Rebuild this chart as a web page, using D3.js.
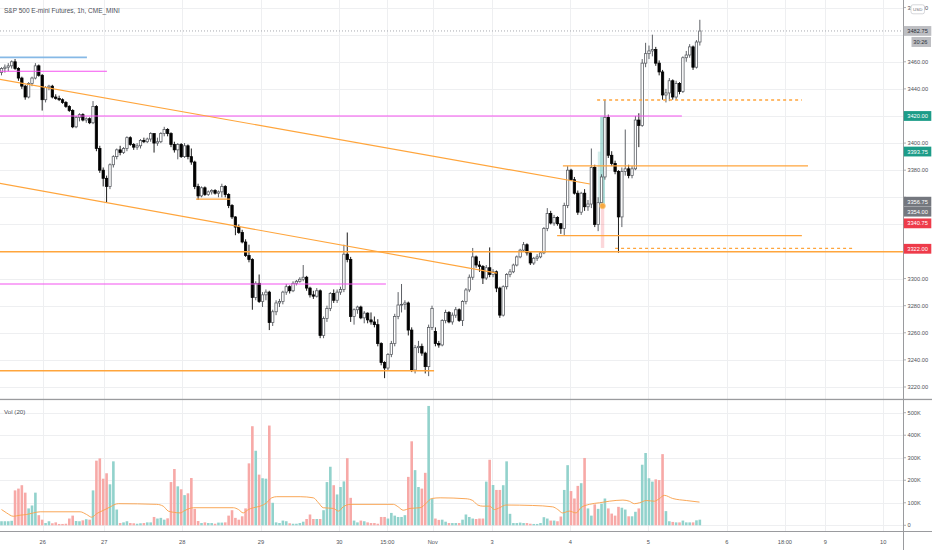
<!DOCTYPE html>
<html><head><meta charset="utf-8">
<script src="https://cdn.jsdelivr.net/npm/d3@7/dist/d3.min.js"></script>
<style>
html,body{margin:0;padding:0;background:#fff;}
svg{display:block;font-family:"Liberation Sans",Arial,sans-serif;}
</style></head><body>
<svg id="c" width="932" height="550"></svg>
<script>
// ---------- DATA ----------
const title = "S&P 500 E-mini Futures, 1h, CME_MINI";
// hourly bars [open, high, low, close]
const ohlc = [
[3452,3456,3450,3455],[3455,3458,3452,3456],[3456,3459,3453,3457],[3457,3461,3455,3460],[3460,3462,3454,3455],
[3455,3456,3446,3448],[3448,3449,3440,3442],[3442,3443,3432,3434],[3434,3445,3433,3444],[3444,3449,3442,3448],
[3448,3459,3447,3457],[3457,3458,3449,3450],[3450,3451,3424,3432],[3432,3442,3430,3441],[3441,3443,3439,3442],
[3442,3443,3433,3434],[3434,3436,3432,3433],[3433,3435,3431,3432],[3432,3433,3429,3430],[3430,3431,3426,3427],
[3427,3428,3423,3424],[3424,3425,3411,3412],[3412,3420,3411,3419],[3419,3422,3416,3421],[3421,3422,3416,3417],
[3417,3419,3415,3418],[3418,3419,3414,3415],[3415,3431,3414,3427],[3427,3428,3394,3396],[3396,3398,3378,3380],
[3380,3382,3368,3374],[3374,3376,3356,3368],[3368,3385,3366,3384],[3384,3391,3382,3390],[3390,3396,3388,3395],
[3395,3398,3391,3393],[3393,3397,3392,3396],[3396,3405,3394,3404],[3404,3405,3398,3399],[3399,3400,3395,3397],
[3397,3400,3395,3398],[3398,3403,3396,3402],[3402,3404,3400,3401],[3401,3404,3400,3403],[3403,3408,3401,3407],
[3407,3407,3393,3400],[3400,3404,3398,3401],[3401,3408,3400,3407],[3407,3412,3405,3410],[3410,3411,3405,3407],
[3407,3408,3397,3399],[3399,3401,3393,3395],[3395,3400,3388,3399],[3399,3400,3389,3390],[3390,3400,3389,3398],
[3398,3399,3388,3390],[3390,3396,3384,3386],[3386,3387,3366,3368],[3368,3370,3358,3361],[3361,3368,3360,3367],
[3367,3368,3361,3362],[3362,3365,3361,3364],[3364,3366,3362,3365],[3365,3366,3362,3363],[3363,3365,3360,3364],
[3364,3370,3360,3368],[3368,3369,3360,3362],[3362,3363,3352,3354],[3354,3355,3344,3345.5],[3345.5,3346,3332,3338],
[3338,3340,3333,3334],[3334,3336,3326,3327],[3327,3329,3316,3317],[3317,3325,3312,3314],[3314,3315,3277,3286],
[3286,3298,3284,3296.5],[3296.5,3303,3282,3283],[3283,3290,3279,3288],[3288,3292,3284,3290],[3290,3291,3262,3267.5],
[3267.5,3277,3265,3275.5],[3275.5,3284,3273,3282],[3282,3285,3279,3283],[3283,3291,3281,3290],[3290,3296,3288,3294],
[3294,3295,3289,3291],[3291,3298,3290,3296.5],[3296.5,3299,3295,3298],[3298,3301,3297,3299.5],[3299.5,3310,3298,3301],
[3301,3302,3291,3293],[3293,3294,3286,3288],[3288,3291,3285,3287],[3287,3293,3286,3291],[3291,3292,3256,3258],
[3258,3272,3256,3270.5],[3270.5,3280,3268,3278],[3278,3290,3276,3289],[3289,3292,3282,3284],[3284,3292,3282,3290],
[3290,3294,3288,3292],[3292,3325,3290,3318],[3318,3334,3312,3314],[3314,3316,3268,3272],[3272,3278,3266,3277],
[3277,3280,3274,3279],[3279,3280,3270,3271],[3271,3276,3267,3274.5],[3274.5,3275,3267,3269.5],[3269.5,3275,3266,3268],
[3268,3272,3264,3266],[3266,3270,3250,3252],[3252,3253,3236,3238],[3238,3239,3226.5,3234],[3234,3245,3232,3244],
[3244,3254,3242,3252],[3252,3274,3250,3272],[3272,3290,3270,3280.5],[3280.5,3296,3275,3281],[3281,3284,3277,3282],
[3282,3283,3258,3262],[3262,3264,3231,3232.5],[3232.5,3251,3230,3249],[3249,3254,3245,3250],[3250,3252,3243,3245],
[3245,3246,3230,3235],[3235,3266,3228,3264],[3264,3280,3262,3278],[3261,3264,3250,3252],[3252,3254,3249,3251],
[3251,3270,3250,3269],[3269,3277,3267,3275],[3275,3276,3267,3268],[3268,3275,3266,3273],[3273,3279,3271,3277],
[3277,3278,3268,3269],[3269,3284,3265,3283],[3283,3293,3281,3291.6],[3291.6,3303,3290,3301],[3301,3322.6,3299,3316],
[3316,3317,3308,3310],[3310,3313,3305,3309],[3309,3310,3296,3300.4],[3300.4,3310,3299,3308],[3308,3323,3301,3303],
[3303,3307,3301,3305],[3305,3306,3290,3293],[3293,3294,3271,3273],[3273,3295,3272,3294],[3294,3304,3292,3303],
[3303,3307,3301,3305],[3305,3311,3304,3310],[3310,3317,3309,3316],[3316,3322,3315,3321],[3321,3327,3320,3325],
[3325,3326,3317,3319],[3319,3320,3310,3311.5],[3311.5,3316,3310,3315],[3315,3318,3313,3316],[3316,3320,3315,3319],
[3319,3338,3318,3337],[3337,3352,3335,3348],[3348,3350,3340,3341],[3341,3347,3339,3345],[3345,3346,3339,3340.5],
[3340.5,3341,3333,3337],[3337,3356,3332,3354],[3354,3383,3352,3380],[3380,3381,3372,3373],[3373,3375,3362,3363],
[3363,3365,3347,3349],[3349,3364,3347,3363],[3363,3366,3350,3353],[3353,3358,3350,3355],[3355,3396,3352,3382],
[3382,3384,3338,3340],[3340,3360,3335,3356],[3356,3377,3352,3375],[3375,3432,3373,3419],[3419,3421,3389,3391],
[3391,3394,3383,3385],[3385,3387,3377,3379],[3379,3380,3319,3345.5],[3345.5,3382,3338,3379],[3379,3410,3376,3381],
[3381,3384,3374,3376],[3376,3383,3374,3381],[3381,3420,3380,3417],[3417,3422,3397,3413],[3413,3462,3412,3459],
[3459,3474,3456,3466],[3466,3472,3462,3468],[3468,3480,3464,3469],[3469,3471,3457,3459],[3459,3461,3450,3452.5],
[3452.5,3454,3432,3435.5],[3435.5,3440,3430,3437],[3437,3448,3431,3446],[3446,3447,3432,3434],[3434,3446,3432,3444],
[3444,3445,3436,3438],[3438,3464,3437,3463],[3463,3468,3460,3465],[3465,3473,3463,3471],[3471,3472,3454,3456],
[3456,3476,3455,3474.6],[3474.6,3491,3472,3482.75]
];
// volume in thousands, one per bar
const volumeK = [
18,18,18,20,155,163,178,145,75,88,145,45,25,10,18,9,13,6,6,7,30,43,19,18,22,27,25,155,
287,297,207,231,182,284,70,
10,13,18,10,9,7,9,10,13,13,
37,30,33,25,31,
192,250,173,160,134,142,210,73,19,
10,13,10,10,7,12,12,
13,43,67,33,25,40,75,275,440,331,225,209,207,443,100,
13,10,21,18,9,7,7,10,16,
28,48,28,28,28,67,192,260,
178,137,170,195,298,122,
21,13,21,18,13,10,10,7,
37,37,30,55,43,37,37,45,
215,373,245,170,163,233,530,118,30,
24,25,16,10,10,10,10,25,
48,
37,30,28,30,30,
194,291,179,157,157,178,284,51,
10,10,12,10,10,7,6,6,10,
36,30,21,21,18,39,
157,267,152,119,175,187,299,75,43,93,73,96,119,75,52,43,82,78,70,40,40,60,75,269,321,209,194,204,201,316,63,18,15,13,13,21,13,13,13,22,25
];
// Vol(20) moving-average readings (bar index, thousands)
const maIdx = [0,1.5,3.5,5.5,7.4,9.4,11.4,23.2,25.1,26.6,28.1,30,32,33.5,34.5,45.8,47.7,49.2,50.7,52.7,54.1,56.6,68.4,69.9,71.3,72.8,74.3,76.3,78.2,79.7,81.2,88.1,92,93.5,94.9,97.9,99.4,100.8,102.8,115.6,117.1,118.5,120.5,123.5,125.4,126.9,129.4,137,139,140.5,142,144,145.4,146.9,148.8,156.7,162.6,164.1,165.5,167.5,169.5,170.9,173.4,176.4,179.3,183.3,185.2,186.7,188.2,190.2,192.6,194.1,195.5,198,202,205.9];
const maVal = [70,55,40,45,48,55,60,60,48,36,52,66,81,93,96,93,85,63,58,55,66,78,78,70,55,70,78,85,100,122,127,127,122,100,78,75,63,82,93,93,81,67,75,78,100,119,122,118,110,90,85,85,70,78,90,88,82,70,55,63,55,78,93,100,107,112,107,96,100,110,107,119,133,119,110,103];

const timeTickIdx = [12.15,30.3,53.3,76.55,99.65,113.8,127.2,144.7,167.8,190.8,214,231.1,243,260.1];
const timeTickLabel = ["26","27","28","29","30","15:00","Nov","3","4","5","6","18:00","9","10"];
const priceTicks = [3220,3240,3260,3280,3300,3320,3340,3360,3380,3400,3420,3440,3460,3480,3500];
const volTicksK = [0,100,200,300,400,500];
const volTickLabel = ["0","100K","200K","300K","400K","500K"];

// horizontal drawings: price, start bar, end bar
const hLevel = [3463.2,3453,3420,3296,3232,3319.8,3322.3,3383.2,3331.7,3431.8,3358.6];
const hStart = [-0.5,-0.5,-0.5,-0.5,-0.5,-0.5,181,165.6,163.9,175.7,57.4];
const hEnd   = [25.2,31.1,200.7,113.4,127.6,275,251.8,237.9,236.1,236.1,67.4];
const hKind  = ["blue","magenta","magenta","magenta","orange","orange","orangeDash","orange","orange","orangeDash","orange"];
// trend lines
const tStartIdx = [-0.5,-0.5], tStartPrice = [3447.1,3370.3];
const tEndIdx = [173.6,146.2], tEndPrice = [3369.8,3304];
// long-position tool zones
const posLeft = [176.6,175.9,176.8], posRight = [178.0,176.7,177.8];
const posTop = [3419.5,3393.7,3353.6], posBottom = [3353.6,3353.6,3322.6];
const posKind = ["target","targetLight","stop"];
const posEntryIdx = 177.3, posEntryPrice = 3353.6;

const lastPrice = 3482.75, countdown = "30:26";
const badgePrice = [3482.75,3420.00,3393.75,3356.75,3354.00,3340.75,3322.00];
const badgeKind = ["last","teal","teal","gray","gray","red","red"];

// ---------- STYLES / LAYOUT ----------
const W = 932, H = 550, plotR = 903, priceB = 399, volT = 400, volB = 531;
const styles = {
  blue:{stroke:"#86b9e6",w:1.7,dash:null},
  magenta:{stroke:"#f452f0",w:1.2,dash:null},
  orange:{stroke:"#ffa53c",w:1.35,dash:null},
  orangeDash:{stroke:"#ffa53c",w:1.3,dash:"3,3"}
};
const posFill = {target:"rgba(38,166,154,0.38)",targetLight:"rgba(38,166,154,0.2)",stop:"rgba(242,54,69,0.2)"};
const badgeStyle = {last:["#bdbec2","#2a2e39"],teal:["#1c9c88","#fff"],gray:["#74777e","#fff"],red:["#ee3b4a","#fff"]};
const axisFont = 5.7, textCol = "#505257";

const svg = d3.select("#c");
const x = d3.scaleLinear().domain([0,206]).range([1.5,1.5+206*3.39]);
const y = d3.scaleLinear().domain([3214,3505.6]).range([395.1,0]);
const yv = d3.scaleLinear().domain([0,500]).range([525.3,412.7]);

svg.append("rect").attr("width",W).attr("height",H).attr("fill","#fff");
const defs = svg.append("defs");
defs.append("clipPath").attr("id","cp").append("rect").attr("x",0).attr("y",0).attr("width",plotR).attr("height",priceB);
defs.append("clipPath").attr("id","cv").append("rect").attr("x",0).attr("y",volT).attr("width",plotR).attr("height",volB-volT);

// grid
const grid = svg.append("g").attr("stroke","#eeeff1").attr("stroke-width",1);
priceTicks.forEach(p=>grid.append("line").attr("x1",0).attr("x2",plotR).attr("y1",Math.round(y(p))+0.5).attr("y2",Math.round(y(p))+0.5));
volTicksK.forEach(v=>grid.append("line").attr("x1",0).attr("x2",plotR).attr("y1",Math.round(yv(v))+0.5).attr("y2",Math.round(yv(v))+0.5));
timeTickIdx.forEach(t=>grid.append("line").attr("x1",Math.round(x(t))+0.5).attr("x2",Math.round(x(t))+0.5).attr("y1",0).attr("y2",volB));

const pg = svg.append("g").attr("clip-path","url(#cp)");
// position tool
posKind.forEach((k,i)=>{
  pg.append("rect").attr("x",x(posLeft[i])).attr("width",x(posRight[i])-x(posLeft[i]))
    .attr("y",y(posTop[i])).attr("height",y(posBottom[i])-y(posTop[i])).attr("fill",posFill[k]);
});
// candles
const bw = 2.4;
const cg = pg.append("g");
ohlc.forEach((d,i)=>{
  const [o,h,l,c] = d; const up = c>=o; const cx = x(i);
  cg.append("line").attr("x1",cx).attr("x2",cx).attr("y1",y(h)).attr("y2",y(l))
    .attr("stroke",up?"#55585e":"#111").attr("stroke-width",0.95);
  const top = y(Math.max(o,c)), bot = y(Math.min(o,c));
  cg.append("rect").attr("x",cx-bw/2).attr("width",bw).attr("y",top).attr("height",Math.max(0.8,bot-top))
    .attr("fill",up?"#fff":"#000").attr("stroke",up?"#55585e":"#000").attr("stroke-width",0.75);
});
// horizontal drawings
hLevel.forEach((p,i)=>{
  const s = styles[hKind[i]];
  const ln = pg.append("line").attr("x1",x(hStart[i])).attr("x2",x(hEnd[i])).attr("y1",y(p)).attr("y2",y(p))
    .attr("stroke",s.stroke).attr("stroke-width",s.w);
  if (s.dash) ln.attr("stroke-dasharray",s.dash);
});
// trend lines
tStartIdx.forEach((t,i)=>{
  pg.append("line").attr("x1",x(t)).attr("y1",y(tStartPrice[i])).attr("x2",x(tEndIdx[i])).attr("y2",y(tEndPrice[i]))
    .attr("stroke","#ffa53c").attr("stroke-width",1.15);
});
// entry marker
pg.append("circle").attr("cx",x(posEntryIdx)).attr("cy",y(posEntryPrice)).attr("r",2.8)
  .attr("fill","#f7a941").attr("stroke","#fbc77e").attr("stroke-width",0.8);
// last price dotted line
pg.append("line").attr("x1",0).attr("x2",plotR).attr("y1",y(lastPrice)).attr("y2",y(lastPrice))
  .attr("stroke","#9ea0a6").attr("stroke-width",0.9).attr("stroke-dasharray","1,2");

// volume
const vg = svg.append("g").attr("clip-path","url(#cv)");
volumeK.forEach((v,i)=>{
  const d = ohlc[i]; const up = d[3]>=d[0];
  vg.append("rect").attr("x",x(i)-1.3).attr("width",2.6).attr("y",yv(v)).attr("height",yv(0)-yv(v))
    .attr("fill",up?"#92d2cc":"#f7a9a7");
});
const maLine = d3.line().x((d,i)=>x(maIdx[i])).y((d,i)=>yv(maVal[i])).curve(d3.curveMonotoneX);
vg.append("path").attr("d",maLine(maVal)).attr("fill","none").attr("stroke","#f9a24f").attr("stroke-width",0.95);

// frame lines
svg.append("rect").attr("x",0).attr("y",398.8).attr("width",W).attr("height",1.3).attr("fill","#9a9b9e");
svg.append("line").attr("x1",plotR+0.5).attr("x2",plotR+0.5).attr("y1",0).attr("y2",H).attr("stroke","#9a9b9e").attr("stroke-width",1);
svg.append("line").attr("x1",0).attr("x2",W).attr("y1",volB+0.5).attr("y2",volB+0.5).attr("stroke","#9a9b9e").attr("stroke-width",1);

// badges layout first (to know which axis labels they hide)
const bs = badgePrice.map((p,i)=>({p,k:badgeKind[i],y:y(p)})).sort((a,b)=>a.y-b.y);
for (let i=1;i<bs.length;i++){ if (bs[i].y-bs[i-1].y<10) bs[i].y = bs[i-1].y+10; }
const hidden = p => bs.some(b=>Math.abs(b.y-y(p))<7.5);

// price axis labels
const ax = svg.append("g").attr("font-size",axisFont).attr("fill",textCol);
priceTicks.forEach(p=>{
  const yy = y(p);
  svg.append("line").attr("x1",plotR).attr("x2",plotR+3).attr("y1",yy).attr("y2",yy).attr("stroke","#9a9b9e").attr("stroke-width",0.8);
  if (!hidden(p)) ax.append("text").attr("x",907.5).attr("y",yy).attr("dy","0.35em").text(p.toFixed(2));
});
volTicksK.forEach((v,i)=>{
  const yy = yv(v);
  svg.append("line").attr("x1",plotR).attr("x2",plotR+3).attr("y1",yy).attr("y2",yy).attr("stroke","#9a9b9e").attr("stroke-width",0.8);
  ax.append("text").attr("x",907.5).attr("y",yy).attr("dy","0.35em").text(volTickLabel[i]);
});
// time axis labels
timeTickIdx.forEach((t,i)=>{
  ax.append("text").attr("x",x(t)).attr("y",541.8).attr("dy","0.35em").attr("text-anchor","middle").text(timeTickLabel[i]);
});

const bg = svg.append("g").attr("font-size",axisFont);
bs.forEach(b=>{
  const [fill,fc] = badgeStyle[b.k];
  bg.append("rect").attr("x",plotR+0.8).attr("y",b.y-4.9).attr("width",W-plotR-1.5).attr("height",9.8).attr("fill",fill);
  bg.append("text").attr("x",907.3).attr("y",b.y).attr("dy","0.35em").attr("fill",fc).text(b.p.toFixed(2));
  if (b.k==="last"){
    bg.append("rect").attr("x",911.5).attr("y",b.y+6).attr("width",19.5).attr("height",10).attr("fill",fill);
    bg.append("text").attr("x",913.3).attr("y",b.y+11).attr("dy","0.35em").attr("fill",fc).text(countdown);
  }
});
// currency box
svg.append("rect").attr("x",911).attr("y",4.8).attr("width",13.5).attr("height",9).attr("rx",2)
  .attr("fill","#fff").attr("stroke","#c4c6cb").attr("stroke-width",0.7);
svg.append("text").attr("x",917.7).attr("y",9.4).attr("dy","0.35em").attr("text-anchor","middle")
  .attr("font-size",4.4).attr("fill","#6a6d75").text("USD");

// titles
svg.append("text").attr("x",4).attr("y",12.8).attr("font-size",6.5).attr("fill","#4d5058").text(title);
svg.append("text").attr("x",4).attr("y",413.6).attr("font-size",6.2).attr("fill","#4d5058").text("Vol (20)");
</script>
</body></html>
